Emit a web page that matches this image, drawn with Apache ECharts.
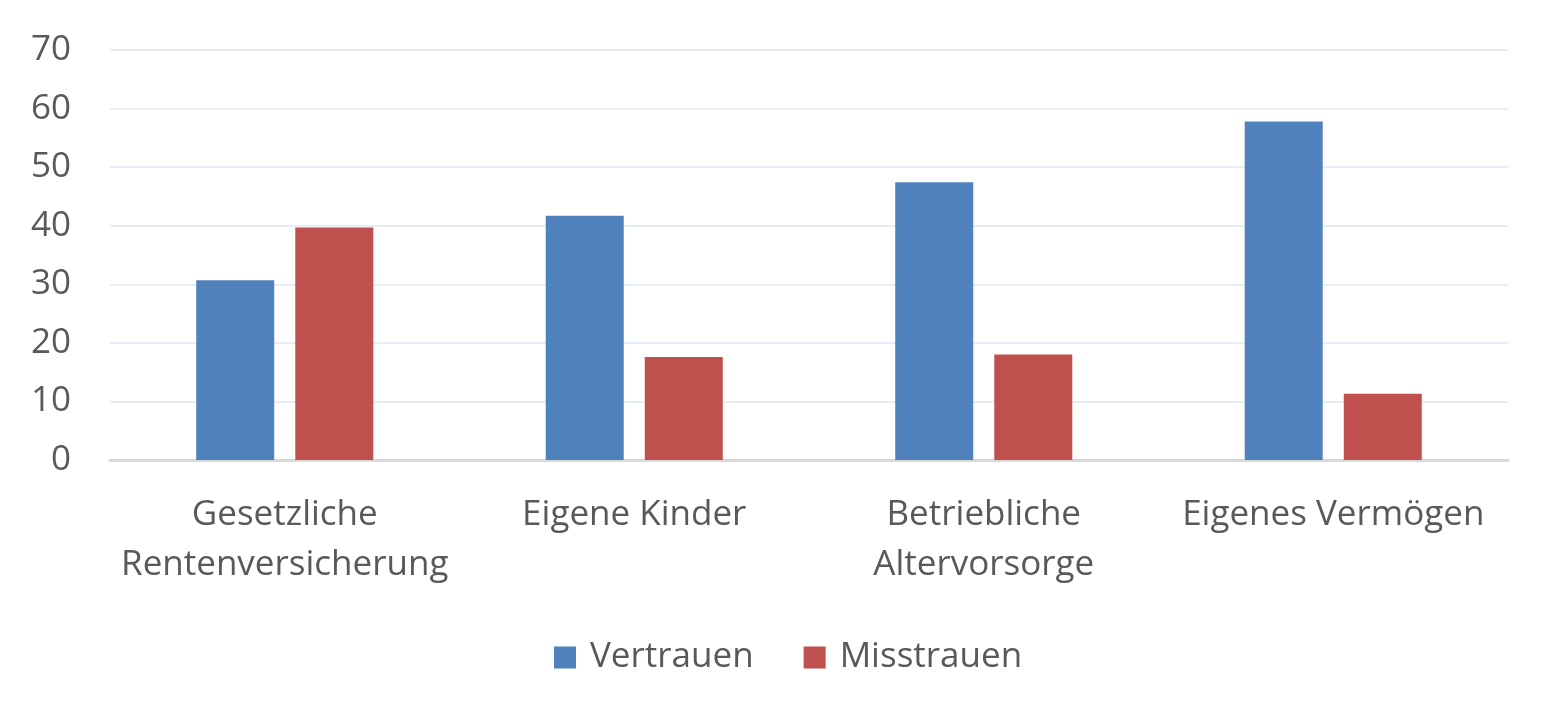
<!DOCTYPE html>
<html>
<head>
<meta charset="utf-8">
<script src="https://cdn.jsdelivr.net/npm/echarts@6/dist/echarts.min.js"></script>
<style>
html,body{margin:0;padding:0;background:#fff;}
#chart{width:1559px;height:722px;}
</style>
</head>
<body>
<div id="chart"></div>
<script>
var categories = ['Gesetzliche\nRentenversicherung', 'Eigene Kinder', 'Betriebliche\nAltervorsorge', 'Eigenes Vermögen'];
var seriesNames = ['Vertrauen', 'Misstrauen'];
var vertrauen = [30.7, 41.7, 47.4, 57.8];
var misstrauen = [39.7, 17.6, 18.0, 11.3];
var yTicks = [0, 10, 20, 30, 40, 50, 60, 70];

var FONT = '"Open Sans"';
var TXT = '#595959';
var chart = echarts.init(document.getElementById('chart'), null, {renderer: 'canvas'});
chart.setOption({
  animation: false,
  backgroundColor: '#fff',
  textStyle: {fontFamily: FONT},
  grid: {left: 110, right: 51, top: 50, bottom: 262, containLabel: false},
  legend: {
    data: seriesNames,
    bottom: 42,
    left: 549,
    itemWidth: 22, itemHeight: 22, itemGap: 50,
    icon: 'rect',
    textStyle: {fontFamily: FONT, fontSize: 35, color: TXT, padding: [0, 0, 0, 9]}
  },
  xAxis: {
    type: 'category',
    data: categories,
    axisTick: {show: false},
    axisLine: {lineStyle: {color: '#D9D9D9', width: 3}},
    axisLabel: {fontFamily: FONT, fontSize: 35, color: TXT, lineHeight: 50, margin: 30, interval: 0}
  },
  yAxis: {
    type: 'value',
    min: yTicks[0], max: yTicks[yTicks.length - 1], interval: 10,
    axisLine: {show: false},
    axisTick: {show: false},
    splitLine: {lineStyle: {color: '#E7EDF6', width: 2}},
    axisLabel: {fontFamily: FONT, fontSize: 35, color: TXT, margin: 39}
  },
  series: [
    {name: seriesNames[0], type: 'bar', data: vertrauen, barWidth: 78, barGap: '27%', itemStyle: {color: '#4F81BD'}},
    {name: seriesNames[1], type: 'bar', data: misstrauen, barWidth: 78, barGap: '27%', itemStyle: {color: '#C0504D'}}
  ]
});
</script>
</body>
</html>
